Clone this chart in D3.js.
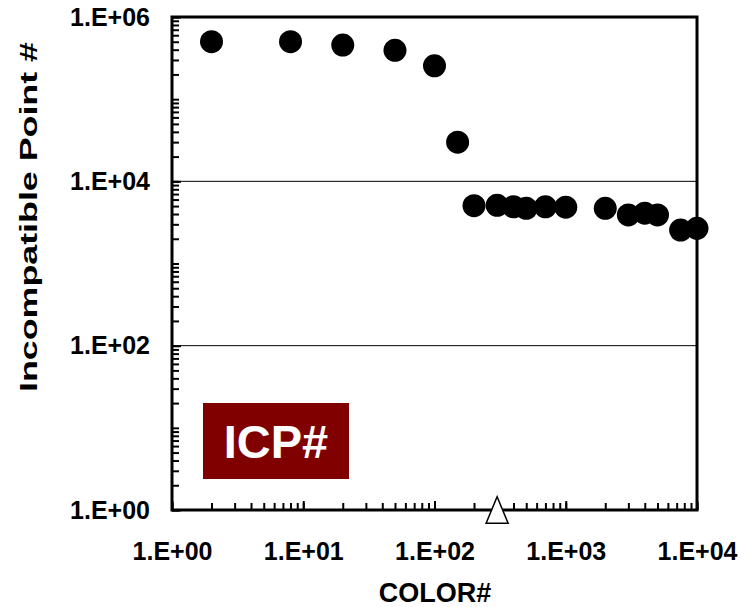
<!DOCTYPE html>
<html lang="en">
<head>
  <meta charset="UTF-8">
  <title>ICP# vs COLOR#</title>
  <script src="https://d3js.org/d3.v7.min.js"></script>
</head>
<style>
  body{
    margin:0;
    background:white;
    font-family: Arial, "Liberation Sans", Helvetica, sans-serif;
  }
  .axis path, .axis line{
    stroke:black;
  }
  .axis text{
    font-family: Arial, "Liberation Sans", sans-serif;
    font-weight: bold;
    font-size: 25px;
    fill: black;
  }
</style>
<body>
  <div id="svg_area"></div>
</body>
<script>
// data
var colors = [2, 8, 20, 50, 100, 150, 200, 300, 400, 500, 700, 1000, 2000, 3000, 4000, 5000, 7500, 10000];
var icp = [500000, 500000, 456000, 393000, 255000, 30000, 5050, 5100, 4900, 4700, 4900, 4850, 4700, 3900, 4100, 3900, 2550, 2680];
// single open triangle sitting on the x axis
var markX = [300];
var markY = [1];
var xTicks = [1, 10, 100, 1000, 10000];
var yTicks = [1, 100, 10000, 1000000];

var width = 749;
var height = 607;
// plot box edges (don't call these "top" - clashes with window.top)
var plotLeft = 172, plotRight = 697, plotTop = 17, plotBottom = 510;

var xScale = d3.scaleLog().domain([1, 10000]).range([plotLeft, plotRight]);
var yScale = d3.scaleLog().domain([1, 1000000]).range([plotBottom, plotTop]);

function fmt(d){
  var e = Math.round(Math.log10(d));
  return "1.E+" + String(e).padStart(2, "0");
}

var svg = d3.select("#svg_area").append("svg")
  .attr("width", width)
  .attr("height", height);

// horizontal grid lines at 1E+02 and 1E+04
svg.append("g")
  .selectAll("line")
  .data([100, 10000])
  .enter()
  .append("line")
    .attr("x1", plotLeft)
    .attr("x2", plotRight)
    .attr("y1", function(d){return yScale(d);})
    .attr("y2", function(d){return yScale(d);})
    .attr("stroke", "black")
    .attr("stroke-width", 1);

// minor ticks (inward)
svg.append("g")
  .attr("class", "axis")
  .attr("transform", "translate(0," + plotBottom + ")")
  .call(d3.axisBottom(xScale).tickValues(xScale.ticks()).tickSizeInner(-7).tickSizeOuter(0).tickFormat(""))
  .call(function(g){ g.select(".domain").remove(); })
  .selectAll("line").attr("stroke-width", 2);

svg.append("g")
  .attr("class", "axis")
  .attr("transform", "translate(" + plotLeft + ",0)")
  .call(d3.axisLeft(yScale).tickValues(yScale.ticks()).tickSizeInner(-7).tickSizeOuter(0).tickFormat(""))
  .call(function(g){ g.select(".domain").remove(); })
  .selectAll("line").attr("stroke-width", 2);

// major ticks with labels
svg.append("g")
  .attr("class", "axis")
  .attr("transform", "translate(0," + plotBottom + ")")
  .call(d3.axisBottom(xScale).tickValues(xTicks).tickSizeInner(-9).tickSizeOuter(0).tickPadding(32).tickFormat(fmt))
  .call(function(g){ g.select(".domain").remove(); })
  .selectAll("line").attr("stroke-width", 2);

svg.append("g")
  .attr("class", "axis")
  .attr("transform", "translate(" + plotLeft + ",0)")
  .call(d3.axisLeft(yScale).tickValues(yTicks).tickSizeInner(-9).tickSizeOuter(0).tickPadding(22).tickFormat(fmt))
  .call(function(g){ g.select(".domain").remove(); })
  .selectAll("line").attr("stroke-width", 2);

// plot frame
svg.append("rect")
  .attr("x", plotLeft)
  .attr("y", plotTop)
  .attr("width", plotRight - plotLeft)
  .attr("height", plotBottom - plotTop)
  .attr("fill", "none")
  .attr("stroke", "black")
  .attr("stroke-width", 3);

// ICP# label box
svg.append("rect")
  .attr("x", 203)
  .attr("y", 403)
  .attr("width", 146)
  .attr("height", 76)
  .attr("fill", "#800000");
svg.append("text")
  .attr("x", 276)
  .attr("y", 458)
  .attr("text-anchor", "middle")
  .attr("font-size", "47px")
  .attr("font-weight", "bold")
  .attr("fill", "white")
  .text("ICP#");

// data points
svg.append("g")
  .selectAll("circle")
  .data(colors)
  .enter()
  .append("circle")
    .attr("cx", function(d){return xScale(d);})
    .attr("cy", function(d,i){return yScale(icp[i]);})
    .attr("r", 11.5)
    .attr("fill", "black");

// open triangle
var tallTriangle = {
  draw: function(context, size){
    var w = Math.sqrt(size);
    context.moveTo(0, -w * 0.6);
    context.lineTo(w * 0.5, w * 0.6);
    context.lineTo(-w * 0.5, w * 0.6);
    context.closePath();
  }
};
svg.append("g")
  .selectAll("path")
  .data(markX)
  .enter()
  .append("path")
    .attr("d", d3.symbol().type(tallTriangle).size(484))
    .attr("transform", function(d,i){return "translate(" + xScale(d) + "," + yScale(markY[i]) + ")";})
    .attr("fill", "white")
    .attr("stroke", "black")
    .attr("stroke-width", 1.5);

// axis titles
svg.append("text")
  .attr("x", 435)
  .attr("y", 602)
  .attr("text-anchor", "middle")
  .attr("font-size", "27px")
  .attr("font-weight", "bold")
  .text("COLOR#");

svg.append("text")
  .attr("transform", "translate(37,217) rotate(-90)")
  .attr("text-anchor", "middle")
  .attr("font-size", "23px")
  .attr("font-weight", "bold")
  .attr("textLength", 350)
  .attr("lengthAdjust", "spacingAndGlyphs")
  .text("Incompatible Point #");
</script>
</html>
